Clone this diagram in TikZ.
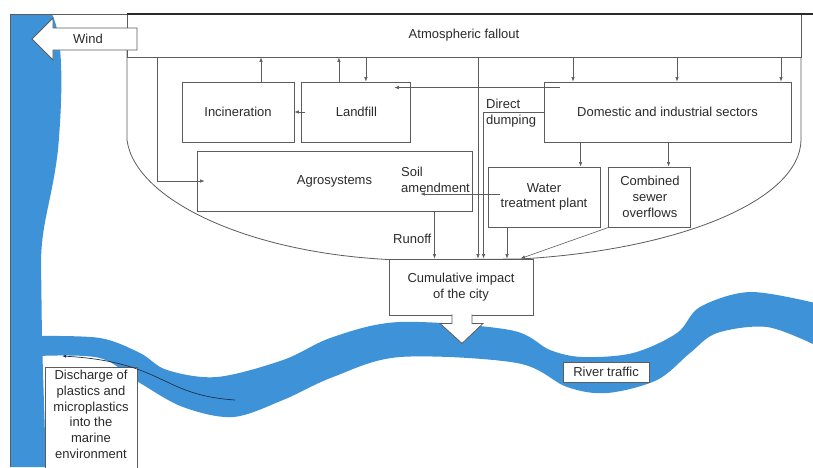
\documentclass[tikz,border=0pt]{standalone}
\usepackage{fontspec}
\setmainfont{Liberation Sans}
\usetikzlibrary{positioning}
\usetikzlibrary{arrows.meta}
\usetikzlibrary{calc}
\definecolor{rBlue}{HTML}{3E93D8}
\definecolor{lGray}{HTML}{5C5C5C}
\definecolor{dGray}{HTML}{2B2B2B}
\definecolor{aNavy}{HTML}{1F2F4F}
\newcommand{\boxfont}{\fontsize{13}{15.7}\selectfont}

\begin{document}
\begin{tikzpicture}[x=1pt, y=-1pt,
    box/.style = {draw=lGray, fill=white, line width=0.9pt, text=dGray, align=center, inner sep=2pt, font=\boxfont},
    lbl/.style = {text=dGray, align=left, inner sep=0pt, font=\boxfont},
    flow/.style = {draw=lGray, line width=0.6pt, -{Latex[length=4.5pt, width=3.5pt]}},
    wall/.style = {draw=lGray, line width=0.8pt},
    ]

    \def\tWater{Water\\treatment plant}
    \def\tSewer{Combined\\sewer\\overflows}
    \def\tCity{Cumulative impact\\of the city}
    \def\tSea{Discharge of\\plastics and\\microplastics\\into the\\marine\\environment}

    \fill[white] (0,0) rectangle (813,467);
    \useasboundingbox (0,0) rectangle (813,467);

    % sea and river
    \fill[rBlue] (10,14) -- (52,14) .. controls (62,35) and (64,80) .. (58,150)
      .. controls (52,200) and (42,220) .. (41,260) -- (42,340) -- (46,467) -- (10,467) -- cycle;
    \fill[rBlue] plot[smooth, tension=0.55] coordinates {(38,336) (100,338) (140,353) (167,370) (217,377) (283,360) (333,337) (400,322) (510,330) (550,350) (583,357) (633,353) (677,333) (700,307) (750,292) (815,303)}
      -- plot[smooth, tension=0.55] coordinates {(815,345) (767,327) (717,333) (690,353) (657,380) (607,393) (567,387) (517,363) (400,357) (333,377) (283,400) (233,417) (183,407) (140,383) (100,358) (38,356)} -- cycle;

    % city outline
    \draw[wall] (127,35) -- (127,140) .. controls (135,200) and (250,255) .. (400,260)
      -- (520,259) .. controls (680,250) and (800,200) .. (801,140) -- (801,35);

    \node[box, minimum width=674pt, minimum height=43pt] (atmo) at (464,35.5) {Atmospheric fallout};

    % frame
    \draw[wall] (10,467) -- (10,14) -- (127,14);
    \draw[dGray, line width=1.6pt] (127,14) -- (813,14);

    % wind
    \filldraw[wall, fill=white] (137,28) -- (53,28) -- (53,18) -- (32,39) -- (53,60) -- (53,50) -- (137,50) -- cycle;
    \node[lbl] (wind) at (88,39) {Wind};

    \node[box, minimum width=112pt, minimum height=60pt] (incin) at (238,112) {Incineration};
    \node[box, minimum width=109pt, minimum height=60pt, right=7pt of incin] (landfill) {Landfill};
    \node[box, minimum width=247pt, minimum height=60pt] (dom) at (667.5,112) {Domestic and industrial sectors};
    \node[box, minimum width=275pt, minimum height=60pt] (agro) at (334.5,181) {Agrosystems};
    \node[box, minimum width=112pt, minimum height=60pt] (water) at (544,197) {\tWater};
    \node[box, minimum width=82pt, minimum height=60pt, right=8pt of water] (sewer) {\tSewer};
    \node[box, minimum width=144pt, minimum height=56pt] (cumul) at (461,287) {\tCity};

    \coordinate (iUp) at ($(incin.north)+(23,0)$);
    \coordinate (lUp) at ($(landfill.north)+(-17.5,0)$);
    \coordinate (lDown) at ($(landfill.north)+(9.5,0)$);
    \coordinate (dA) at ($(dom.north)+(-94.5,0)$);
    \coordinate (dB) at ($(dom.north)+(9.5,0)$);
    \coordinate (dC) at ($(dom.north)+(113.5,0)$);
    \coordinate (dlS) at ($(dom.north west)+(16,6)$);
    \coordinate (dlE) at ($(landfill.north east)+(-17,6)$);
    \coordinate (liS) at ($(landfill.west)+(4,0)$);
    \coordinate (aaS) at ($(atmo.south west)+(31,0)$);
    \coordinate (aaE) at ($(agro.west)+(8,0)$);
    \coordinate (dwS) at ($(dom.south west)+(37,0)$);
    \coordinate (dsS) at ($(dom.south west)+(125,0)$);
    \coordinate (wsS) at ($(water.west)+(12,-3)$);
    \coordinate (wsE) at ($(agro.east)+(-52,13)$);
    \coordinate (roS) at ($(agro.south)+(100,0)$);
    \coordinate (afS) at ($(atmo.south)+(14,0)$);
    \coordinate (ddK) at ($(dom.west)+(-60,0)$);
    \coordinate (wcS) at ($(water.south)+(-37,0)$);
    \coordinate (scE) at ($(cumul.north east)+(-13,0)$);

    % fallout <-> boxes
    \draw[flow] (iUp) -- (iUp |- atmo.south);
    \draw[flow] (lUp) -- (lUp |- atmo.south);
    \draw[flow] (lDown |- atmo.south) -- (lDown);
    \draw[flow] (dA |- atmo.south) -- (dA);
    \draw[flow] (dB |- atmo.south) -- (dB);
    \draw[flow] (dC |- atmo.south) -- (dC);
    \draw[flow] (aaS) |- (aaE);

    % between boxes
    \draw[flow] (dlS) -- (dlE);
    \draw[flow] (liS) -- (incin.east);
    \draw[flow] (dwS) -- (dwS |- water.north);
    \draw[flow] (dsS) -- (dsS |- sewer.north);
    \draw[flow] (wsS) -- (wsE);

    % everything -> city
    \draw[flow] (roS) -- (roS |- cumul.north);
    \draw[flow] (afS) -- (afS |- cumul.north);
    \draw[flow] (dom.west) -- (ddK) -- (ddK |- cumul.north);
    \draw[flow] (wcS) -- (wcS |- cumul.north);
    \draw[flow] (sewer.south west) -- (scE);

    \node[lbl, anchor=west] (dump) at (486,113) {Direct\\dumping};
    \node[lbl, anchor=west] (soil) at (401,180) {Soil\\amendment};
    \node[lbl, anchor=east] (runoff) at ($(roS)+(-3,27)$) {Runoff};

    % city -> river
    \filldraw[wall, fill=white] ($(cumul.south)+(-9,-1)$) -- ($(cumul.south)+(-9,8)$) -- ($(cumul.south)+(-21,8)$)
      -- ($(cumul.south)+(1,28)$) -- ($(cumul.south)+(22,8)$) -- ($(cumul.south)+(11,8)$) -- ($(cumul.south)+(11,-1)$);

    \node[box, minimum width=86pt, minimum height=20pt] (traffic) at (606,372) {River traffic};
    \node[box, anchor=north, minimum width=92pt, inner ysep=3pt, text depth=12pt] (sea) at (91,367) {\tSea};

    \coordinate (flowS) at (235,400);
    \coordinate (flowE) at (62,356);
    \draw[aNavy, line width=0.7pt, -{Latex[length=4pt, width=3pt]}] (flowS) .. controls (160,395) and (165,362) .. (flowE);

  \end{tikzpicture}
\end{document}
